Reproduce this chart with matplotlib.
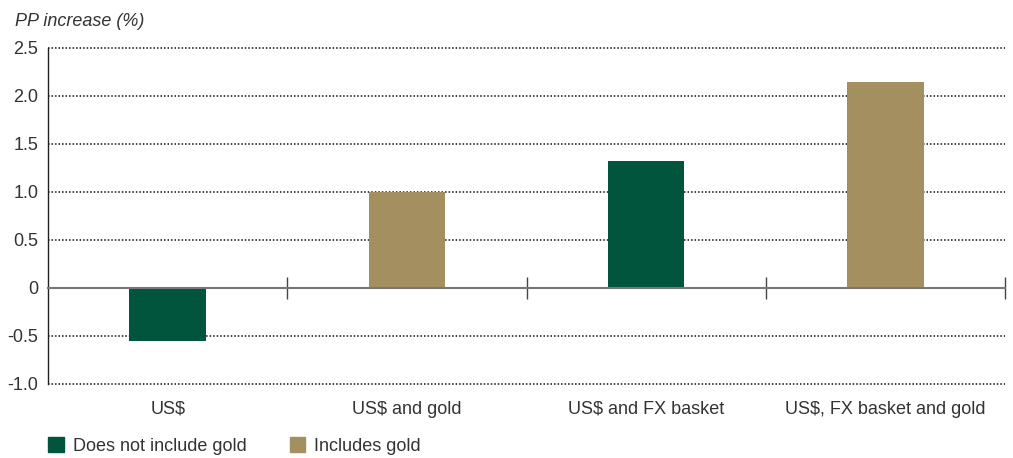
import matplotlib
matplotlib.use('Agg')
import matplotlib.pyplot as plt
from matplotlib.patches import Patch
from matplotlib.ticker import FuncFormatter, MultipleLocator

# dados
categorias = ['US$', 'US$ and gold', 'US$ and FX basket', 'US$, FX basket and gold']
valores = [-0.55, 1.0, 1.32, 2.15]
inclui_ouro = [False, True, False, True]
legenda = ['Does not include gold', 'Includes gold']

verde = '#00553c'
ouro = '#a38f60'
cinza_texto = '#333333'

plt.rcParams['font.family'] = ['Liberation Sans', 'DejaVu Sans']
plt.rcParams['axes.unicode_minus'] = False

fig = plt.figure(figsize=(10.13, 4.58), dpi=100)
ax = fig.add_axes([48/1013, 1-384/458, (1005-48)/1013, (384-48)/458])

x = list(range(len(categorias)))
cores = [ouro if g else verde for g in inclui_ouro]
ax.bar(x, valores, width=0.32, color=cores, zorder=3)

ax.set_xlim(-0.5, len(categorias) - 0.5)
ax.set_ylim(-1.0, 2.5)

# grade pontilhada
ax.yaxis.set_major_locator(MultipleLocator(0.5))
ax.yaxis.set_major_formatter(FuncFormatter(lambda v, p: '0' if abs(v) < 1e-9 else f'{v:.1f}'))
for v in ax.get_yticks():
    if abs(v) > 1e-9 and -1.0 <= v <= 2.5:
        ax.axhline(v, color='#111111', lw=1.1, ls=(0, (1, 1.3)), zorder=2, clip_on=False)

ax.tick_params(axis='y', length=0, pad=7, labelsize=13, labelcolor=cinza_texto)

# eixo x no zero, tracos entre categorias
ax.spines['top'].set_visible(False)
ax.spines['right'].set_visible(False)
ax.spines['left'].set_color('#222222')
ax.spines['left'].set_linewidth(1.0)
ax.spines['bottom'].set_position(('data', 0))
ax.spines['bottom'].set_color('#777777')
ax.spines['bottom'].set_linewidth(1.5)
ax.spines['bottom'].set_zorder(4)
ax.set_xticks([i + 0.5 for i in x])
ax.set_xticklabels([])
ax.tick_params(axis='x', direction='inout', length=16, width=1.0, color='#444444')

# rotulos das categorias embaixo
sec = ax.secondary_xaxis('bottom')
sec.set_xticks(x)
sec.set_xticklabels(categorias)
sec.tick_params(length=0, pad=12, labelsize=13, labelcolor=cinza_texto)
sec.spines['bottom'].set_visible(False)

fig.text(15/1013, 1-21/458, 'PP increase (%)', fontsize=13, style='italic',
         color=cinza_texto, va='center', ha='left')

handles = [Patch(color=verde), Patch(color=ouro)]
fig.legend(handles, legenda, loc='center left', bbox_to_anchor=(32/1013, 1-446/458),
           ncol=2, frameon=False, fontsize=13, handlelength=0.85, handleheight=0.85,
           handletextpad=0.5, columnspacing=2.4, labelcolor=cinza_texto)

fig.savefig('out.png', dpi=100)
